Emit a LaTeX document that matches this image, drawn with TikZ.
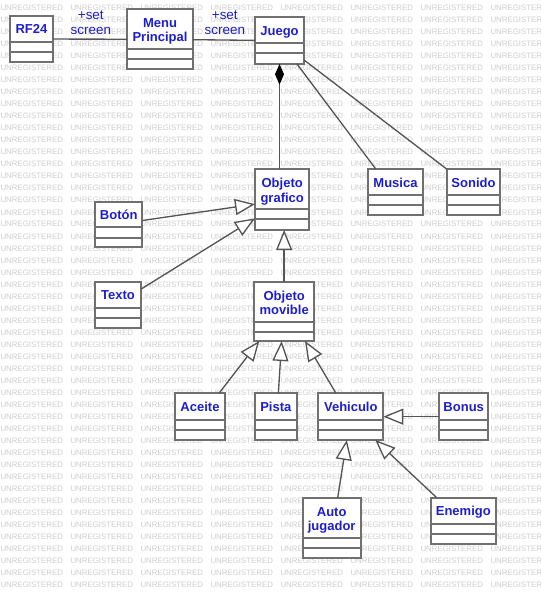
\documentclass[tikz,border=0pt]{standalone}
\usepackage{fontspec}
\setmainfont{Liberation Sans}
\usepackage{tikz}
\usetikzlibrary{arrows.meta,calc,fit}
\tikzset{every picture/.style={line width=0.75pt}}

\definecolor{clsblue}{RGB}{30,30,205}
\definecolor{boxgray}{RGB}{112,112,112}
\definecolor{linkgray}{RGB}{85,85,85}
\definecolor{wmgray}{RGB}{206,206,206}

\tikzset{
  umlbox/.style={draw=boxgray, line width=1.5pt, fill=white, inner sep=0pt, outer sep=0pt},
  umlline/.style={draw=boxgray, line width=1.5pt},
  umltitle/.style={text=clsblue, inner sep=0pt, align=center, font=\fontsize{9.75}{10.8}\selectfont\bfseries},
  msg/.style={text=clsblue, inner sep=0pt, align=center, anchor=south, font=\fontsize{10.1}{10.9}\selectfont},
  assoc/.style={draw=linkgray, line width=1pt},
  inherit/.style={assoc, -{Triangle[length=15pt,width=12pt,fill=white]}},
  composite/.style={assoc, {Diamond[length=15.5pt,width=6.75pt,color=black,fill=black]}-},
  wmark/.style={text=wmgray, inner sep=0pt, anchor=base west, font=\fontsize{5.9}{6}\selectfont}
}

\begin{document}
\begin{tikzpicture}[x=0.75pt,y=0.75pt,yscale=-1,xscale=1]
\path [use as bounding box, fill=white] (0,0) rectangle (541,598);

% watermark
\foreach \i in {0,...,48}
  \foreach \j in {0,...,7}
    \node [wmark] (wm-\i-\j) at (70*\j, 11+12*\i) {UNREGISTERED};

%Class: RF24
\node [umlbox, fit={(10,16) (53,62)}] (rf) {};
\draw [umlline] (10,42) -- (53,42);
\draw [umlline] (10,52) -- (53,52);
\draw (31.5,34) node [umltitle, anchor=base] (rf-t) {RF24};

%Class: Menu Principal
\node [umlbox, fit={(127,9.3) (193,69.3)}] (menu) {};
\draw [umlline] (127,49.3) -- (193,49.3);
\draw [umlline] (127,59.3) -- (193,59.3);
\draw (160,17.9) node [umltitle, anchor=north] (menu-t) {Menu\\Principal};

%Class: Juego
\node [umlbox, fit={(255,17.3) (304,64)}] (juego) {};
\draw [umlline] (255,43.3) -- (304,43.3);
\draw [umlline] (255,53.3) -- (304,53.3);
\draw (279.5,35.3) node [umltitle, anchor=base] (juego-t) {Juego};

%Class: Objeto grafico
\node [umlbox, fit={(255,169.3) (309.3,230)}] (og) {};
\draw [umlline] (255,209.3) -- (309.3,209.3);
\draw [umlline] (255,219.3) -- (309.3,219.3);
\draw (282.2,177.9) node [umltitle, anchor=north] (og-t) {Objeto\\grafico};

%Class: Musica
\node [umlbox, fit={(368,169.3) (423,215)}] (musica) {};
\draw [umlline] (368,195) -- (423,195);
\draw [umlline] (368,205) -- (423,205);
\draw (395.5,187.2) node [umltitle, anchor=base] (musica-t) {Musica};

%Class: Sonido
\node [umlbox, fit={(447,169.3) (500,215)}] (sonido) {};
\draw [umlline] (447,195) -- (500,195);
\draw [umlline] (447,205) -- (500,205);
\draw (473.5,187.2) node [umltitle, anchor=base] (sonido-t) {Sonido};

%Class: Boton
\node [umlbox, fit={(95,202.3) (142.3,246.7)}] (boton) {};
\draw [umlline] (95,227.3) -- (142.3,227.3);
\draw [umlline] (95,237.5) -- (142.3,237.5);
\draw (118.7,219.5) node [umltitle, anchor=base] (boton-t) {Botón};

%Class: Texto
\node [umlbox, fit={(95,282) (141,328.3)}] (texto) {};
\draw [umlline] (95,307.5) -- (141,307.5);
\draw [umlline] (95,317.8) -- (141,317.8);
\draw (118,299.7) node [umltitle, anchor=base] (texto-t) {Texto};

%Class: Objeto movible
\node [umlbox, fit={(254.3,281.7) (314,341)}] (om) {};
\draw [umlline] (254.3,321.7) -- (314,321.7);
\draw [umlline] (254.3,331.7) -- (314,331.7);
\draw (284.2,290.3) node [umltitle, anchor=north] (om-t) {Objeto\\movible};

%Class: Aceite
\node [umlbox, fit={(175,393.3) (225,440)}] (aceite) {};
\draw [umlline] (175,420) -- (225,420);
\draw [umlline] (175,430) -- (225,430);
\draw (200,411.7) node [umltitle, anchor=base] (aceite-t) {Aceite};

%Class: Pista
\node [umlbox, fit={(255,393.3) (296.7,440)}] (pista) {};
\draw [umlline] (255,420) -- (296.7,420);
\draw [umlline] (255,430) -- (296.7,430);
\draw (275.8,411.7) node [umltitle, anchor=base] (pista-t) {Pista};

%Class: Vehiculo
\node [umlbox, fit={(318.3,393.3) (383.3,440)}] (vehiculo) {};
\draw [umlline] (318.3,419.6) -- (383.3,419.6);
\draw [umlline] (318.3,429.6) -- (383.3,429.6);
\draw (350.8,411.7) node [umltitle, anchor=base] (vehiculo-t) {Vehiculo};

%Class: Bonus
\node [umlbox, fit={(439,393.3) (488.3,440)}] (bonus) {};
\draw [umlline] (439,420) -- (488.3,420);
\draw [umlline] (439,430) -- (488.3,430);
\draw (463.7,411.7) node [umltitle, anchor=base] (bonus-t) {Bonus};

%Class: Auto jugador
\node [umlbox, fit={(302.7,497.7) (360.7,557.7)}] (auto) {};
\draw [umlline] (302.7,538.3) -- (360.7,538.3);
\draw [umlline] (302.7,548.3) -- (360.7,548.3);
\draw (331.7,506.6) node [umltitle, anchor=north] (auto-t) {Auto\\jugador};

%Class: Enemigo
\node [umlbox, fit={(430.7,497.7) (496,544)}] (enemigo) {};
\draw [umlline] (430.7,524) -- (496,524);
\draw [umlline] (430.7,534) -- (496,534);
\draw (463.3,515.8) node [umltitle, anchor=base] (enemigo-t) {Enemigo};

% associations
\draw [assoc] (rf) -- (menu);
\node [msg] (set-a) at (90.8,35) {+set\\screen};
\draw [assoc] (menu) -- (juego);
\node [msg] (set-b) at (224.8,35) {+set\\screen};
\draw [composite] (juego.south) -- (juego.south |- og.north);
\draw [assoc] ($(juego.south east)+(-7,0)$) -- ($(musica.north west)+(8,0)$);
\draw [assoc] ($(juego.south east)+(0,-4)$) -- (sonido.north west);

% generalizations
\draw [inherit] ($(boton.east)+(0,-4)$) -- ($(og.west)+(0,4.5)$);
\draw [inherit] ($(texto.east)+(0,-16)$) -- ($(og.west)+(0,18.7)$);
\draw [inherit] (om.north) -- (om.north |- og.south);
\draw [inherit] ($(aceite.north east)+(-6,0)$) -- ($(om.south west)+(5,0)$);
\draw [inherit] ($(pista.north)+(2.5,0)$) -- ($(om.south)+(-2.5,0)$);
\draw [inherit] ($(vehiculo.north west)+(17.7,0)$) -- ($(om.south east)+(-9,0)$);
\draw [inherit] (bonus.west) -- (bonus.west -| vehiculo.east);
\draw [inherit] ($(auto.north)+(6,0)$) -- ($(vehiculo.south)+(-4,0)$);
\draw [inherit] ($(enemigo.north west)+(6,0)$) -- ($(vehiculo.south east)+(-8,0)$);
\end{tikzpicture}
\end{document}
